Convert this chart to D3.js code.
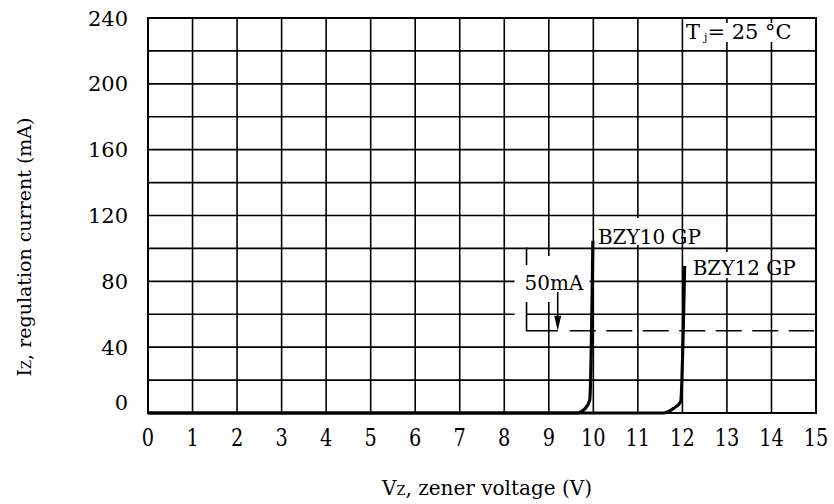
<!DOCTYPE html>
<html><head><meta charset="utf-8">
<script src="https://cdn.jsdelivr.net/npm/d3@7"></script>
<style>body{margin:0;background:#fff}svg{display:block}text{font-family:"DejaVu Serif",serif;fill:#000}</style>
</head><body>
<svg id="c" width="834" height="504"></svg>
<script>
const xTicks = [0,1,2,3,4,5,6,7,8,9,10,11,12,13,14,15];
const yTicks = [0,40,80,120,160,200,240];
const yGrid = [20,40,60,80,100,120,140,160,180,200,220];
const bzy10V = [0, 9.63, 9.82, 9.92, 9.99];
const bzy10I = [0, 0, 2.8, 7.9, 104.7];
const bzy12V = [0, 11.58, 11.80, 11.96, 12.05];
const bzy12I = [0, 0, 2.8, 6.9, 89.3];
const seriesNames = ["BZY10 GP", "BZY12 GP"];
const refCurrent = 50;
const refTop = 100;

const svg = d3.select("#c");
const L=148, R=816, T=18, B=413;
const x = d3.scaleLinear().domain([0,15]).range([L,R]);
const y = d3.scaleLinear().domain([0,240]).range([B,T]);

// grid
const g = svg.append("g");
g.selectAll("line.v").data(xTicks.slice(1,-1)).join("line")
  .attr("x1",d=>x(d)).attr("x2",d=>x(d)).attr("y1",T).attr("y2",B)
  .attr("stroke","#000").attr("stroke-width",1.6);
g.selectAll("line.h").data(yGrid).join("line")
  .attr("x1",L).attr("x2",R).attr("y1",d=>y(d)).attr("y2",d=>y(d))
  .attr("stroke","#000").attr("stroke-width",1.6);
g.append("rect").attr("x",L).attr("y",T).attr("width",R-L).attr("height",B-T)
  .attr("fill","none").attr("stroke","#000").attr("stroke-width",2);

// white patches behind labels
const wp = (x0,y0,w,h)=>svg.append("rect").attr("x",x0).attr("y",y0).attr("width",w).attr("height",h).attr("fill","#fff");
wp(685, 23, 128, 19);          // Tj box
wp(596, 218, 64, 27);          // BZY10 label
wp(690, 252, 70, 26);          // BZY12 label
wp(x(8.5)-12, y(refTop)+4, 12, y(refCurrent)-y(refTop)-6); // left of bracket
wp(x(8.5)+1, 256, 62, 46);     // 50mA text

// 50mA annotation
svg.append("path")
  .attr("d",`M${x(8.5)},${y(refTop)-1}V265M${x(8.5)},302V${y(refCurrent)}H${x(9.2)}`)
  .attr("fill","none").attr("stroke","#000").attr("stroke-width",1.6);
svg.append("line").attr("x1",x(9.2)).attr("x2",x(9.2)).attr("y1",292).attr("y2",y(refCurrent)-10)
  .attr("stroke","#000").attr("stroke-width",1.6);
svg.append("path").attr("d",`M${x(9.2)-3.5},${y(refCurrent)-15}L${x(9.2)+3.5},${y(refCurrent)-15}L${x(9.2)},${y(refCurrent)}Z`).attr("fill","#000");
svg.append("line").attr("x1",x(9.47)).attr("x2",R-2).attr("y1",y(refCurrent)).attr("y2",y(refCurrent))
  .attr("stroke","#000").attr("stroke-width",1.6).attr("stroke-dasharray","26 10.5");
svg.append("text").attr("x",x(8.5)-2).attr("y",290).attr("font-size",20).text("50mA");

// curves
const line = d3.line().x(d=>x(d[0])).y(d=>y(d[1])).curve(d3.curveMonotoneX);
[[bzy10V,bzy10I],[bzy12V,bzy12I]].forEach(([vs,is])=>{
  svg.append("path").datum(vs.map((v,i)=>[v,is[i]])).attr("d",line)
    .attr("fill","none").attr("stroke","#000").attr("stroke-width",3.2).attr("stroke-linejoin","round");
});

// series labels
svg.append("text").attr("x",x(bzy10V[4])+5).attr("y",244).attr("font-size",20).text(seriesNames[0]);
svg.append("text").attr("x",x(bzy12V[4])+8).attr("y",275).attr("font-size",20).text(seriesNames[1]);

// Tj
const tj = svg.append("text").attr("x",686).attr("y",39).attr("font-size",21);
tj.append("tspan").text("T");
tj.append("tspan").attr("font-size",11).attr("dx",4).attr("dy",2).text("j");
tj.append("tspan").attr("dy",-2).text("= 25 °C");

// y tick labels
svg.selectAll("text.yt").data(yTicks).join("text").attr("class","yt")
  .attr("x",128).attr("y",d=>d===0? 402 : y(d)).attr("dy","0.36em")
  .attr("text-anchor","end").attr("font-size",21).text(d=>d);

// x tick labels
svg.selectAll("text.xt").data(xTicks).join("text").attr("class","xt")
  .attr("transform",d=>`translate(${x(d)},446) scale(0.92,1.12)`)
  .attr("text-anchor","middle").attr("font-size",21).text(d=>d);

// axis titles
const xt = svg.append("text").attr("x",487).attr("y",495).attr("text-anchor","middle").attr("font-size",20);
xt.append("tspan").text("V");
xt.append("tspan").attr("font-size",13).text("Z");
xt.append("tspan").text(", zener voltage (V)");
const yt = svg.append("text").attr("transform","translate(31,247) rotate(-90)").attr("text-anchor","middle").attr("font-size",19);
yt.append("tspan").text("I");
yt.append("tspan").attr("font-size",13).text("Z");
yt.append("tspan").text(", regulation current (mA)");
</script>
</body></html>
